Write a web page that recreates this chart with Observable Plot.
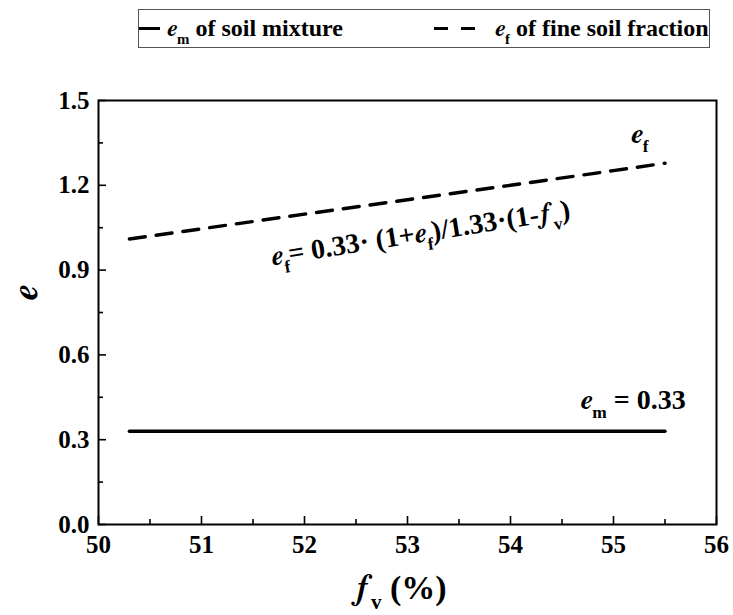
<!DOCTYPE html>
<html>
<head>
<meta charset="utf-8">
<script src="https://cdn.jsdelivr.net/npm/d3@7"></script>
<script src="https://cdn.jsdelivr.net/npm/@observablehq/plot@0.6"></script>
<style>
  body { margin: 0; background: white; }
  #legend { height: 55px; padding-top: 9px; box-sizing: border-box; width: 733px; }
  #legend .box { margin-left: 138px; width: 572px; height: 39px; border: 1.5px solid #555; box-sizing: border-box;
    display: flex; align-items: center; font-family: "Liberation Serif"; font-weight: bold; font-size: 24px; white-space: nowrap; }
  #legend .item { display: flex; align-items: center; }
  #legend .sw { display: inline-block; height: 3.4px; background: black; }
  #legend .it { font-family: FreeSerif; font-style: italic; font-weight: bold; }
  #legend sub { font-size: 0.62em; vertical-align: -7.5px; line-height: 0; }
</style>
</head>
<body>
<div id="legend"></div>
<div id="chart"></div>
<script>
// ---- data ----
const fvValues = [50.3, 51, 52, 53, 54, 55, 55.5];
const emValues = [0.33, 0.33, 0.33, 0.33, 0.33, 0.33, 0.33];
const efValues = [1.010, 1.046, 1.098, 1.149, 1.200, 1.252, 1.278];

const seriesNames = ["e_m of soil mixture", "e_f of fine soil fraction"];

const xTicks = [50, 51, 52, 53, 54, 55, 56];
const xTickLabels = ["50", "51", "52", "53", "54", "55", "56"];
const xMinor = [50.5, 51.5, 52.5, 53.5, 54.5, 55.5];
const yTicks = [0, 0.3, 0.6, 0.9, 1.2, 1.5];
const yTickLabels = ["0.0", "0.3", "0.6", "0.9", "1.2", "1.5"];
const yMinor = [0.15, 0.45, 0.75, 1.05, 1.35];

const xLabel = "f_v (%)";
const yLabel = "e";

const annoText = ["e_f", "e_f= 0.33· (1+e_f)/1.33·(1-f_v)", "e_m = 0.33"];
const annoX = [55.17, 51.69, 54.68];
const annoY = [1.351, 0.916, 0.407];
const annoRotate = [0, -9, 0];

// ---- tables ----
const mixture = fvValues.map((x, i) => ({fv: x, e: emValues[i]}));
const fine = fvValues.map((x, i) => ({fv: x, e: efValues[i]}));
const annos = annoText.map((t, i) => ({t, x: annoX[i], y: annoY[i], r: annoRotate[i]}));

const W = 733, H = 560;
const mL = 98, mR = 17, mT = 45, mB = 91;
const fw = W - mL - mR, fh = H - mT - mB;
const FONT = "Liberation Serif";
const IFONT = "FreeSerif";
const txt = {fontFamily: FONT, fontWeight: "bold", fill: "black"};

function esc(s) { return s.replace(/&/g, "&amp;").replace(/</g, "&lt;"); }

// ---- legend (HTML, above the svg) ----
const legendHTML = s => esc(s).replace(/([ef])_([a-z])/g, (m, a, b) => `<span class="it">${a}</span><sub>${b}</sub>`);
const box = document.createElement("div");
box.className = "box";
box.innerHTML =
  `<div class="item" style="width:295px"><span class="sw" style="width:21px;margin-right:7px"></span><span>${legendHTML(seriesNames[0])}</span></div>` +
  `<div class="item"><span class="sw" style="width:14px;margin-right:13px"></span><span class="sw" style="width:14px;margin-right:20px"></span><span>${legendHTML(seriesNames[1])}</span></div>`;
document.getElementById("legend").appendChild(box);

// ---- chart ----
const plot = Plot.plot({
  width: W,
  height: H,
  marginLeft: mL, marginRight: mR, marginTop: mT, marginBottom: mB,
  style: {fontFamily: FONT, background: "white", color: "black"},
  x: {domain: [50, 56], axis: null},
  y: {domain: [0, 1.5], axis: null},
  marks: [
    Plot.ruleX(xTicks, {x: d => d, insetTop: fh - 8, stroke: "black", strokeWidth: 1.6}),
    Plot.ruleX(xMinor, {x: d => d, insetTop: fh - 5, stroke: "black", strokeWidth: 1.6}),
    Plot.ruleY(yTicks, {y: d => d, insetRight: fw - 8, stroke: "black", strokeWidth: 1.6}),
    Plot.ruleY(yMinor, {y: d => d, insetRight: fw - 5, stroke: "black", strokeWidth: 1.6}),
    Plot.frame({stroke: "black", strokeWidth: 2}),
    Plot.text(xTicks, {x: d => d, frameAnchor: "bottom", dy: 11, lineAnchor: "top", text: (d, i) => xTickLabels[i], fontSize: 25, ...txt}),
    Plot.text(yTicks, {y: d => d, frameAnchor: "left", dx: -9, textAnchor: "end", lineAnchor: "middle", text: (d, i) => yTickLabels[i], fontSize: 25, ...txt}),
    Plot.text([xLabel], {frameAnchor: "bottom", dx: -7, dy: 74, lineAnchor: "bottom", text: d => d, fontSize: 34, ...txt}),
    Plot.text([yLabel], {frameAnchor: "left", dx: -73, dy: -12, rotate: -90, lineAnchor: "middle", text: d => d, fontSize: 36, ...txt}),
    Plot.line(mixture, {x: "fv", y: "e", stroke: "black", strokeWidth: 3.4}),
    Plot.line(fine, {x: "fv", y: "e", stroke: "black", strokeWidth: 3.4, strokeDasharray: "16,11"}),
    Plot.text(annos, {x: "x", y: "y", text: "t", rotate: "r", textAnchor: "start", lineAnchor: "bottom", fontSize: 28, ...txt})
  ]
});

function rich(str, fs) {
  const itAttr = ` font-style="italic" font-family="${IFONT}"`;
  if (str === "e") return `<tspan${itAttr}>e</tspan>`;
  const parts = str.split(/([ef])_([a-z])/);
  const sh = +(0.32 * fs).toFixed(1);
  let shift = 0, out = "";
  const seg = (t, attrs, target) => {
    const dy = +(target - shift).toFixed(1); shift = target;
    return `<tspan${dy ? ` dy="${dy}"` : ""}${attrs}>${esc(t)}</tspan>`;
  };
  for (let i = 0; i < parts.length; i++) {
    const k = i % 3;
    if (k === 0) { if (parts[i]) out += seg(parts[i], "", 0); }
    else if (k === 1) out += seg(parts[i], itAttr, 0);
    else out += seg(parts[i], ` font-size="${(0.62 * fs).toFixed(1)}px"`, sh);
  }
  return out;
}

plot.querySelectorAll("text").forEach(t => {
  const s = t.textContent;
  if (s.includes("_") || s === "e") {
    const fs = parseFloat(t.getAttribute("font-size") || t.parentNode.getAttribute("font-size") || "28");
    t.innerHTML = rich(s, fs);
  }
});

document.getElementById("chart").appendChild(plot);
</script>
</body>
</html>
